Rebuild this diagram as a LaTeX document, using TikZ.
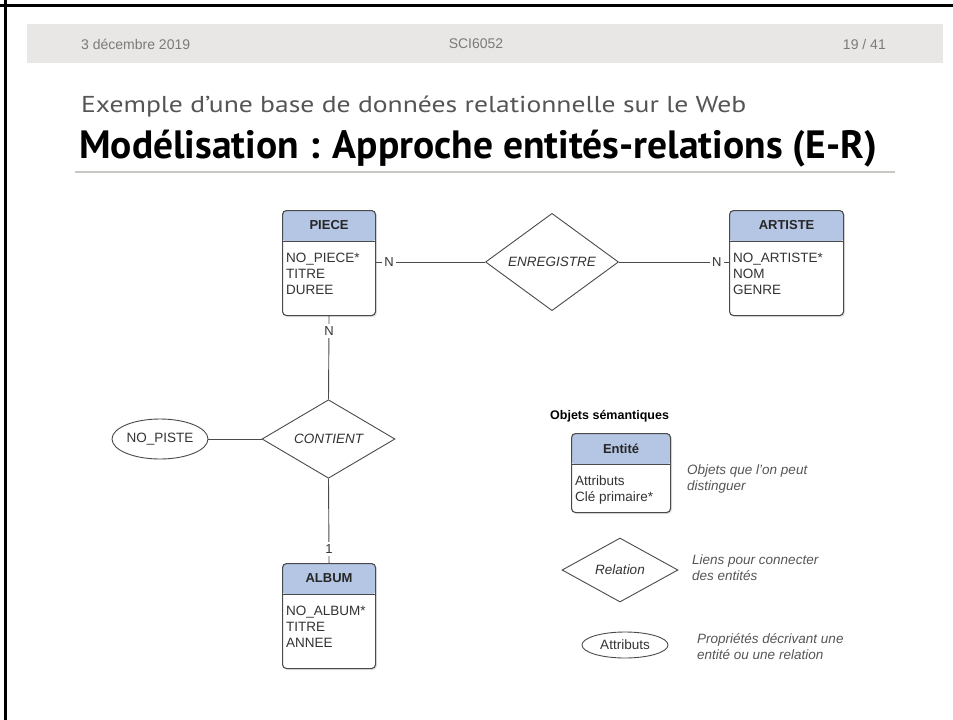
\documentclass[tikz,border=0pt]{standalone}
\usepackage{fontspec}
\setmainfont{Liberation Sans}
\newfontfamily\titlefont{PT Sans}
\newfontfamily\subfont[FakeStretch=1.2]{PT Sans}
\usetikzlibrary{shapes.geometric,shadows}
\definecolor{bandgray}{HTML}{E8E7E5}
\definecolor{headgray}{HTML}{7A7A7A}
\definecolor{subgray}{HTML}{555555}
\definecolor{rulegray}{HTML}{C9C7C3}
\definecolor{entblue}{HTML}{B4C6E4}
\definecolor{linegray}{HTML}{4A4A4A}
\definecolor{txtgray}{HTML}{333333}

\begin{document}
\begin{tikzpicture}[x=1pt,y=-1pt,
    every node/.style={inner sep=0pt, text=txtgray, font=\fontsize{13.5}{16}\selectfont},
    entity/.style={rectangle, draw=linegray, line width=1.1pt, rounded corners=4pt, fill=white,
        anchor=north west, drop shadow={shadow xshift=1.5pt, shadow yshift=-1.5pt, opacity=0.2},
        path picture={
            \fill[entblue] (path picture bounding box.north west) rectangle ([yshift=-31pt]path picture bounding box.north east);
            \draw[linegray, line width=1.1pt] ([yshift=-31pt]path picture bounding box.north west) -- ([yshift=-31pt]path picture bounding box.north east);}},
    relation/.style={diamond, draw=linegray, line width=0.9pt, fill=white, font=\fontsize{13.5}{16}\selectfont\itshape},
    attribute/.style={ellipse, draw=linegray, line width=0.9pt, fill=white},
    link/.style={draw=linegray, line width=0.9pt},
    card/.style={fill=white, inner sep=2.5pt, font=\fontsize{13}{15}\selectfont},
    desc/.style={anchor=north west, align=left, text=subgray, font=\fontsize{13.5}{16}\selectfont\itshape}]

\useasboundingbox (0,0) rectangle (953,720);

% slide frame and header
\draw[line width=3pt] (0,5) -- (953,5);
\draw[line width=3pt] (5.5,0) -- (5.5,720);
\fill[bandgray] (27,24) rectangle (943,63);
\node[anchor=west, text=headgray, font=\fontsize{14}{16}\selectfont] (date) at (81,44) {3 décembre 2019};
\node[text=headgray, font=\fontsize{14}{16}\selectfont] (course) at (476,44) {SCI6052};
\node[anchor=east, text=headgray, font=\fontsize{14}{16}\selectfont] (page) at (886,44) {19 / 41};

\node[anchor=base west, text=subgray, font=\subfont\fontsize{23}{26}\selectfont] (sub) at (81,112) {Exemple d’une base de données relationnelle sur le Web};
\node[anchor=base west, text=black, font=\titlefont\bfseries\fontsize{39.5}{42}\selectfont] (title) at (79,158) {Modélisation : Approche entités-relations (E-R)};
\draw[rulegray, line width=2pt] (75,172) -- (895,172);

% entities
\foreach \nm/\px/\py/\bw/\bh/\ttl/\att in {
    piece/282/210/93/105/PIECE/{NO\_PIECE*\\TITRE\\DUREE},
    artiste/729/210/114/105/ARTISTE/{NO\_ARTISTE*\\NOM\\GENRE},
    album/282/563/93/105/ALBUM/{NO\_ALBUM*\\TITRE\\ANNEE},
    entite/571/433/99/79/Entité/{Attributs\\Clé primaire*}} {
    \node[entity, minimum width=\bw, minimum height=\bh] (\nm) at (\px,\py) {};
    \node[font=\fontsize{13}{15}\selectfont\bfseries, text=black!85] (\nm-t) at ([yshift=-15.5pt]\nm.north) {\ttl};
    \node[anchor=north west, align=left] (\nm-a) at ([xshift=4pt,yshift=-43pt]\nm.north west) {\att};
}

% relations and attributes
\node[relation, minimum width=133, minimum height=66] (enr) at (552,262) {ENREGISTRE};
\node[relation, minimum width=133, minimum height=64] (cont) at (328.5,439) {CONTIENT};
\node[attribute, minimum width=96, minimum height=40] (piste) at (160,439) {NO\_PISTE};

\draw[link] (piece.east |- enr.west) -- node[card, pos=0.12] {N} (enr.west);
\draw[link] (enr.east) -- node[card, pos=0.89] {N} (enr.east -| artiste.west);
\draw[link] (piece.south) -- node[card, pos=0.18] {N} (cont.north);
\draw[link] (cont.south) -- node[card, pos=0.83] {1} (album.north);
\draw[link] (piste) -- (cont);

% legend
\node[anchor=west, text=black, font=\fontsize{12.5}{15}\selectfont\bfseries] (legend) at (550,416) {Objets sémantiques};
\node[relation, minimum width=116, minimum height=64] (rel) at (620,570) {Relation};
\node[attribute, minimum width=86, minimum height=26] (attr) at (625,645) {Attributs};
\node[desc] (d-ent) at (687,465) {Objets que l'on peut\\distinguer};
\node[desc] (d-rel) at (692,555) {Liens pour connecter\\des entités};
\node[desc] (d-att) at (697,633) {Propriétés décrivant une\\entité ou une relation};
\end{tikzpicture}
\end{document}
